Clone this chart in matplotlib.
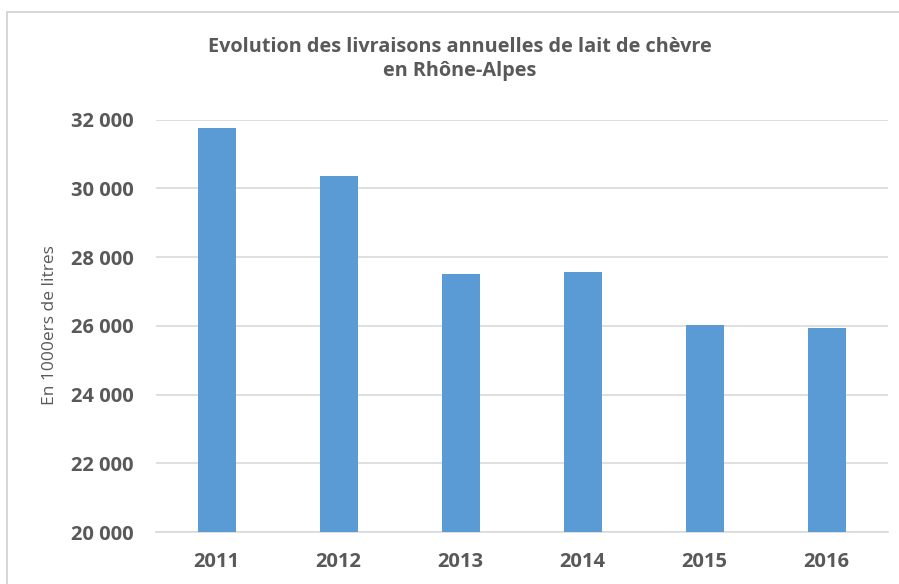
import matplotlib
matplotlib.use("Agg")
import matplotlib.pyplot as plt
from matplotlib.patches import Rectangle
from matplotlib.ticker import FuncFormatter

years = ["2011", "2012", "2013", "2014", "2015", "2016"]
values = [31760, 30345, 27495, 27555, 26015, 25940]
yticks = [20000, 22000, 24000, 26000, 28000, 30000, 32000]

plt.rcParams['font.family'] = ['Open Sans', 'DejaVu Sans']
TXT = '#595959'
BAR = '#5B9BD5'
GRID = '#D9D9D9'

fig = plt.figure(figsize=(8.99, 5.84), dpi=100)
fig.patches.append(Rectangle((7/899, -0.1), 2, (1 - 12/584) + 0.1, transform=fig.transFigure,
                             fill=False, edgecolor='#D0D0D0', linewidth=1.2, zorder=0))

ax = fig.add_axes([155.7/899, 1 - 532.3/584, (887.7 - 155.7)/899, (532.3 - 119.5)/584])
x = list(range(len(years)))
ax.bar(x, values, width=0.314, color=BAR, zorder=3)
ax.set_xlim(-0.5, len(years) - 0.5)
ax.set_ylim(20000, 32000)
ax.set_yticks(yticks)
ax.yaxis.set_major_formatter(FuncFormatter(lambda v, p: f"{int(v):,}".replace(",", " ")))
ax.set_xticks(x)
ax.set_xticklabels(years)
ax.grid(axis='y', color=GRID, linewidth=1.2, zorder=0)
for s in ['left', 'right', 'top']:
    ax.spines[s].set_visible(False)
ax.spines['bottom'].set_color(GRID)
ax.spines['bottom'].set_linewidth(1.2)
ax.tick_params(axis='both', length=0, colors=TXT)
ax.tick_params(axis='y', pad=16, labelsize=14.5)
ax.tick_params(axis='x', pad=14, labelsize=14.5)
for lab in ax.get_xticklabels() + ax.get_yticklabels():
    lab.set_fontweight('bold')

fig.text(50/899, 1 - 325/584, "En 1000ers de litres", rotation=90, ha='center', va='center',
         fontsize=12.5, color=TXT)
fig.text(460/899, 1 - 59/584, "Evolution des livraisons annuelles de lait de chèvre\nen Rhône-Alpes",
         ha='center', va='center', fontsize=14.3, fontweight='bold', color=TXT, linespacing=1.25)

fig.savefig("out.png", dpi=100)
